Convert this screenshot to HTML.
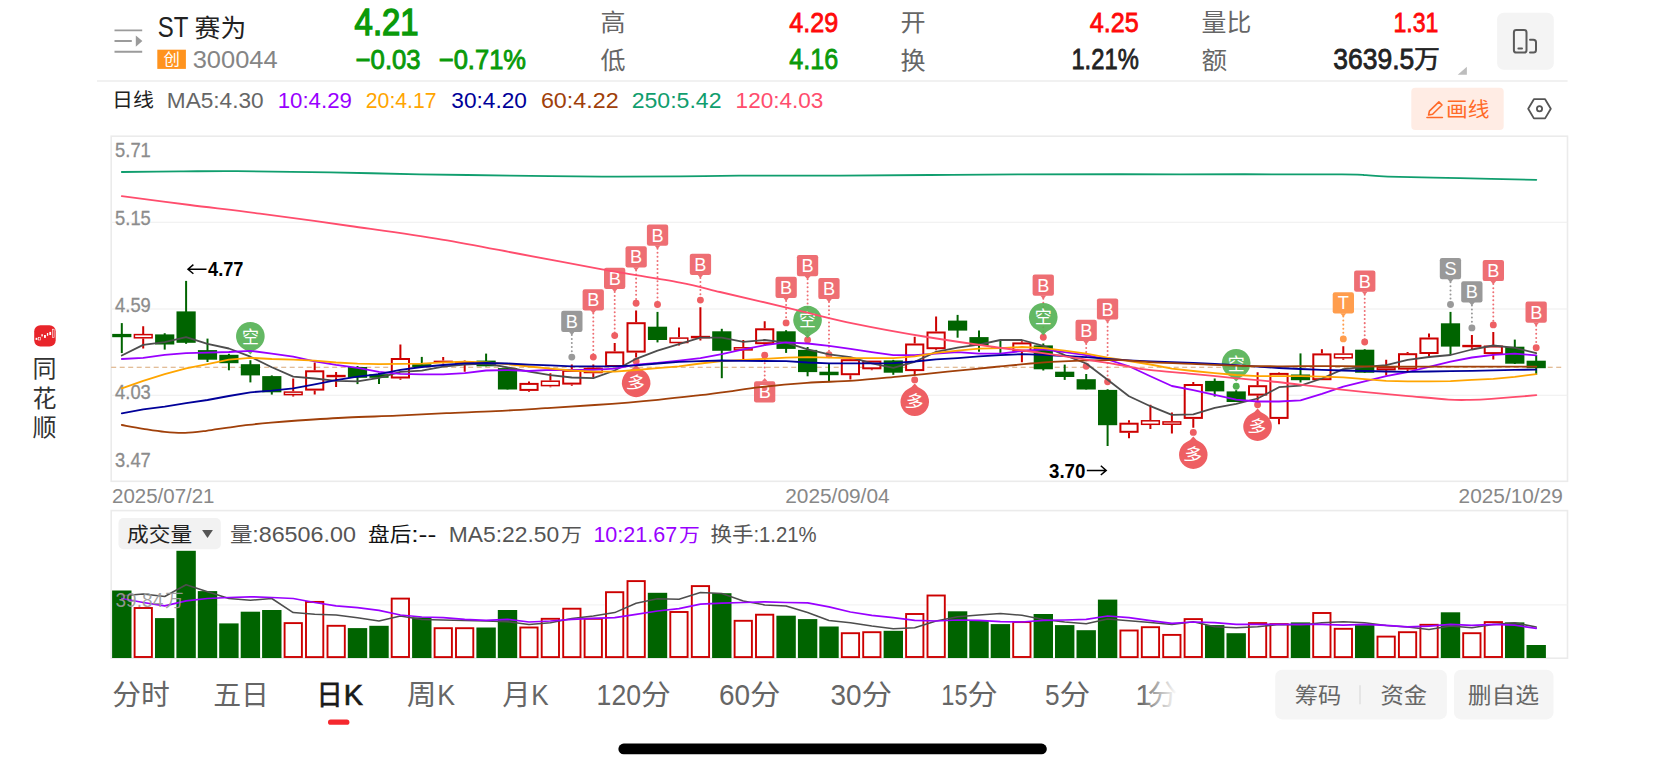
<!DOCTYPE html>
<html lang="zh-CN"><head><meta charset="utf-8"><title>ST赛为 300044 日K</title>
<style>html,body{margin:0;padding:0;background:#fff;overflow:hidden}svg{display:block;font-family:'Liberation Sans','Noto Sans CJK SC',sans-serif}</style>
</head><body>
<svg width="1665" height="768" viewBox="0 0 1665 768">
<rect width="1665" height="768" fill="#fff"/>
<g id="header">
<g stroke="#9b9b9b" stroke-width="1.9" fill="none"><path d="M114.5 30.4H142.2M114.5 41H131.8M114.5 51.8H142.2"/></g>
<path d="M135.8 35.4L142.4 41L135.8 46.8Z" fill="#9b9b9b"/>
<text><tspan x="157.7" y="36.6" font-size="28.6" fill="#222" textLength="30.6" lengthAdjust="spacingAndGlyphs">ST</tspan> <tspan x="194.6" y="36.6" font-size="25" fill="#222" textLength="51.6" lengthAdjust="spacingAndGlyphs">赛为</tspan></text>
<rect x="157.3" y="49.7" width="28.6" height="19.2" fill="#ff931e"/>
<text x="171.6" y="65.2" font-size="16.4" fill="#fff" text-anchor="middle">创</text>
<text x="192.7" y="67.6" font-size="23.3" fill="#858585" textLength="85" lengthAdjust="spacingAndGlyphs">300044</text>
<text x="354.6" y="35.4" font-size="37.7" fill="#0a9a0a" textLength="64" lengthAdjust="spacingAndGlyphs" stroke="#0a9a0a" stroke-width="1.5">4.21</text>
<text><tspan x="355.6" y="69.2" font-size="27.8" fill="#0a9a0a" textLength="65" lengthAdjust="spacingAndGlyphs" stroke="#0a9a0a" stroke-width="0.9">−0.03</tspan> <tspan x="438.8" y="69.2" font-size="27.8" fill="#0a9a0a" textLength="87.2" lengthAdjust="spacingAndGlyphs" stroke="#0a9a0a" stroke-width="0.9">−0.71%</tspan></text>
<text x="600.6" y="31.1" font-size="24.2" fill="#666" textLength="25" lengthAdjust="spacingAndGlyphs">高</text>
<text x="600.6" y="68.6" font-size="23.8" fill="#666" textLength="25" lengthAdjust="spacingAndGlyphs">低</text>
<text x="789.2" y="31.5" font-size="28.5" fill="#ff0a0a" textLength="49" lengthAdjust="spacingAndGlyphs" stroke="#ff0a0a" stroke-width="0.8">4.29</text>
<text x="789.2" y="69" font-size="28.8" fill="#0a9a0a" textLength="49" lengthAdjust="spacingAndGlyphs" stroke="#0a9a0a" stroke-width="0.8">4.16</text>
<text x="900.4" y="31.1" font-size="24.2" fill="#666" textLength="25.1" lengthAdjust="spacingAndGlyphs">开</text>
<text x="900.4" y="68.6" font-size="23.8" fill="#666" textLength="25.1" lengthAdjust="spacingAndGlyphs">换</text>
<text x="1089.8" y="31.5" font-size="28.5" fill="#ff0a0a" textLength="49" lengthAdjust="spacingAndGlyphs" stroke="#ff0a0a" stroke-width="0.8">4.25</text>
<text x="1071.4" y="69" font-size="28.8" fill="#222" textLength="67.4" lengthAdjust="spacingAndGlyphs" stroke="#222" stroke-width="0.8">1.21%</text>
<text x="1201.5" y="31" font-size="24" fill="#666" textLength="49.8" lengthAdjust="spacingAndGlyphs">量比</text>
<text x="1201.5" y="68.5" font-size="23.9" fill="#666" textLength="25.6" lengthAdjust="spacingAndGlyphs">额</text>
<text x="1393.4" y="31.5" font-size="28.5" fill="#ff0a0a" textLength="45" lengthAdjust="spacingAndGlyphs" stroke="#ff0a0a" stroke-width="0.8">1.31</text>
<text><tspan x="1333.3" y="69" font-size="28.8" fill="#222" textLength="80.9" lengthAdjust="spacingAndGlyphs" stroke="#222" stroke-width="0.8">3639.5</tspan><tspan x="1414" y="68.1" font-size="24.6" fill="#222" textLength="25.9" lengthAdjust="spacingAndGlyphs" stroke="#222" stroke-width="0.6">万</tspan></text>
<path d="M1466.9 66.7V74.8H1457.7Z" fill="#bdbdbd"/>
<rect x="1497.1" y="12.8" width="56.7" height="56.9" rx="6.5" fill="#f4f4f4"/>
<g fill="none" stroke="#5a5a5a" stroke-width="2" stroke-linecap="round"><rect x="1513.9" y="30" width="12.6" height="22.6" rx="2.4"/><path d="M1518.4 48.4H1522"/><path d="M1530 39.7H1533.4Q1536 39.7 1536 42.3V50Q1536 52.6 1533.4 52.6H1530"/></g>
<path d="M97 81.1H1567.6" stroke="#ededed" stroke-width="1.5"/>
<text x="112.1" y="107.3" font-size="18.9" fill="#222" textLength="41.9" lengthAdjust="spacingAndGlyphs">日线</text>
<text x="166.8" y="107.6" font-size="21.6" fill="#666666" textLength="96.8" lengthAdjust="spacingAndGlyphs">MA5:4.30</text>
<text x="277.7" y="107.6" font-size="21.6" fill="#9900ff" textLength="74.2" lengthAdjust="spacingAndGlyphs">10:4.29</text>
<text x="365.8" y="107.6" font-size="21.6" fill="#ffa500" textLength="70.8" lengthAdjust="spacingAndGlyphs">20:4.17</text>
<text x="451.3" y="107.6" font-size="21.6" fill="#000099" textLength="75.6" lengthAdjust="spacingAndGlyphs">30:4.20</text>
<text x="540.9" y="107.6" font-size="21.6" fill="#a0400a" textLength="77.7" lengthAdjust="spacingAndGlyphs">60:4.22</text>
<text x="631.7" y="107.6" font-size="21.6" fill="#109e6e" textLength="89.8" lengthAdjust="spacingAndGlyphs">250:5.42</text>
<text x="735.6" y="107.6" font-size="21.6" fill="#ff4d6d" textLength="87.8" lengthAdjust="spacingAndGlyphs">120:4.03</text>
<rect x="1411.3" y="87.8" width="92.4" height="42.1" rx="4" fill="#ffece4"/>
<g fill="none" stroke="#ff6a28" stroke-width="1.6" stroke-linecap="round" stroke-linejoin="round"><path d="M1438.9 101.9L1442 105L1432.6 114.2L1428.6 115L1429.4 111.1Z"/><path d="M1427 117.5H1442.4"/></g>
<text x="1445.9" y="116.5" font-size="20.5" fill="#ff6a28" textLength="43.5" lengthAdjust="spacingAndGlyphs">画线</text>
<g fill="none" stroke="#555" stroke-width="1.8" stroke-linejoin="round"><path d="M1528.2 108.8L1533.9 99.2H1545.1L1550.8 108.8L1545.1 118.4H1533.9Z"/><circle cx="1539.5" cy="108.8" r="2.6"/></g>
</g>
<g id="brand">
<rect x="34.2" y="325.2" width="21.5" height="21.3" rx="6.2" fill="#e8242a"/>
<g fill="#fff"><rect x="35.6" y="337.8" width="1.8" height="2.1"/><rect x="41.4" y="334.2" width="1.4" height="2.2"/><rect x="44" y="335" width="1.9" height="2.9"/><rect x="46.9" y="333" width="1.3" height="2.8"/><rect x="49.3" y="331.9" width="1.8" height="3.1"/></g>
<g fill="none" stroke="#fff" stroke-width="0.6"><rect x="38.5" y="337.6" width="2" height="2.4"/><rect x="52.5" y="329.2" width="1.6" height="8.3"/></g>
<text x="44.4" y="376.6" font-size="24" fill="#333" text-anchor="middle">同</text>
<text x="44.4" y="406.5" font-size="24" fill="#333" text-anchor="middle">花</text>
<text x="44.4" y="436.4" font-size="24" fill="#333" text-anchor="middle">顺</text>
</g>
<g id="kchart">
<rect x="111.2" y="136.2" width="1456.3" height="345.1" fill="#fff" stroke="#ebebeb" stroke-width="1.6"/>
<path d="M111.2 222.3H1567.5" stroke="#eeeeee" stroke-width="1.05"/>
<path d="M111.2 308.9H1567.5" stroke="#eeeeee" stroke-width="1.05"/>
<path d="M111.2 395.2H1567.5" stroke="#eeeeee" stroke-width="1.05"/>
<text x="115.1" y="156.5" font-size="20.6" fill="#8c8c8c" textLength="35.7" lengthAdjust="spacingAndGlyphs" stroke="#8c8c8c" stroke-width="0.3">5.71</text>
<text x="115.1" y="225.2" font-size="20.6" fill="#8c8c8c" textLength="35.7" lengthAdjust="spacingAndGlyphs" stroke="#8c8c8c" stroke-width="0.3">5.15</text>
<text x="115.1" y="311.9" font-size="20.6" fill="#8c8c8c" textLength="35.7" lengthAdjust="spacingAndGlyphs" stroke="#8c8c8c" stroke-width="0.3">4.59</text>
<text x="115.1" y="398.6" font-size="20.6" fill="#8c8c8c" textLength="35.7" lengthAdjust="spacingAndGlyphs" stroke="#8c8c8c" stroke-width="0.3">4.03</text>
<text x="115.1" y="467" font-size="20.6" fill="#8c8c8c" textLength="35.7" lengthAdjust="spacingAndGlyphs" stroke="#8c8c8c" stroke-width="0.3">3.47</text>
<path d="M111.2 367.3H1563" stroke="#d9a877" stroke-width="1.1" stroke-dasharray="5 3.5"/>
<g id="markers">
<path d="M571.8 334.9V357.1" stroke="#999999" stroke-width="2" stroke-linecap="round" stroke-dasharray="0.01 4.05"/>
<rect x="561.2" y="310.7" width="21.3" height="21.2" rx="2.2" fill="#999999"/>
<path d="M568.8 331.6L571.8 335.3L574.8 331.6Z" fill="#999999"/>
<circle cx="571.8" cy="357.1" r="3.45" fill="#999999"/>
<text x="571.8" y="327.8" font-size="18.2" fill="#fff" text-anchor="middle">B</text>
<path d="M593.3 313.4V357.1" stroke="#ee6e73" stroke-width="2" stroke-linecap="round" stroke-dasharray="0.01 4.05"/>
<rect x="582.6" y="289.2" width="21.3" height="21.2" rx="2.2" fill="#ee6e73"/>
<path d="M590.3 310.1L593.3 313.8L596.3 310.1Z" fill="#ee6e73"/>
<circle cx="593.3" cy="357.1" r="3.45" fill="#ee5f63"/>
<text x="593.3" y="306.3" font-size="18.2" fill="#fff" text-anchor="middle">B</text>
<path d="M614.7 291.9V335.6" stroke="#ee6e73" stroke-width="2" stroke-linecap="round" stroke-dasharray="0.01 4.05"/>
<rect x="604" y="267.7" width="21.3" height="21.2" rx="2.2" fill="#ee6e73"/>
<path d="M611.7 288.6L614.7 292.3L617.7 288.6Z" fill="#ee6e73"/>
<circle cx="614.7" cy="335.6" r="3.45" fill="#ee5f63"/>
<text x="614.7" y="284.8" font-size="18.2" fill="#fff" text-anchor="middle">B</text>
<path d="M636.1 270.5V303.2" stroke="#ee6e73" stroke-width="2" stroke-linecap="round" stroke-dasharray="0.01 4.05"/>
<rect x="625.5" y="246.3" width="21.3" height="21.2" rx="2.2" fill="#ee6e73"/>
<path d="M633.1 267.2L636.1 270.9L639.1 267.2Z" fill="#ee6e73"/>
<circle cx="636.1" cy="303.2" r="3.45" fill="#ee5f63"/>
<text x="636.1" y="263.4" font-size="18.2" fill="#fff" text-anchor="middle">B</text>
<path d="M657.5 248.7V304.5" stroke="#ee6e73" stroke-width="2" stroke-linecap="round" stroke-dasharray="0.01 4.05"/>
<rect x="646.9" y="224.5" width="21.3" height="21.2" rx="2.2" fill="#ee6e73"/>
<path d="M654.5 245.4L657.5 249.1L660.5 245.4Z" fill="#ee6e73"/>
<circle cx="657.5" cy="304.5" r="3.45" fill="#ee5f63"/>
<text x="657.5" y="241.6" font-size="18.2" fill="#fff" text-anchor="middle">B</text>
<path d="M700.4 277.9V300.1" stroke="#ee6e73" stroke-width="2" stroke-linecap="round" stroke-dasharray="0.01 4.05"/>
<rect x="689.8" y="253.7" width="21.3" height="21.2" rx="2.2" fill="#ee6e73"/>
<path d="M697.4 274.6L700.4 278.3L703.4 274.6Z" fill="#ee6e73"/>
<circle cx="700.4" cy="300.1" r="3.45" fill="#ee5f63"/>
<text x="700.4" y="270.8" font-size="18.2" fill="#fff" text-anchor="middle">B</text>
<path d="M764.7 355.2V378.3" stroke="#ee6e73" stroke-width="2" stroke-linecap="round" stroke-dasharray="0.01 4.05"/>
<rect x="754" y="381.3" width="21.3" height="21.2" rx="2.2" fill="#ee6e73"/>
<path d="M761.7 381.6L764.7 377.9L767.7 381.6Z" fill="#ee6e73"/>
<circle cx="764.7" cy="355.2" r="3.45" fill="#ee5f63"/>
<text x="764.7" y="398.4" font-size="18.2" fill="#fff" text-anchor="middle">B</text>
<path d="M786.1 300.9V322.9" stroke="#ee6e73" stroke-width="2" stroke-linecap="round" stroke-dasharray="0.01 4.05"/>
<rect x="775.5" y="276.7" width="21.3" height="21.2" rx="2.2" fill="#ee6e73"/>
<path d="M783.1 297.6L786.1 301.3L789.1 297.6Z" fill="#ee6e73"/>
<circle cx="786.1" cy="322.9" r="3.45" fill="#ee5f63"/>
<text x="786.1" y="293.8" font-size="18.2" fill="#fff" text-anchor="middle">B</text>
<path d="M807.6 279.2V340" stroke="#ee6e73" stroke-width="2" stroke-linecap="round" stroke-dasharray="0.01 4.05"/>
<rect x="796.9" y="255" width="21.3" height="21.2" rx="2.2" fill="#ee6e73"/>
<path d="M804.6 275.9L807.6 279.6L810.6 275.9Z" fill="#ee6e73"/>
<circle cx="807.6" cy="340" r="3.45" fill="#ee5f63"/>
<text x="807.6" y="272.1" font-size="18.2" fill="#fff" text-anchor="middle">B</text>
<path d="M829 302.1V354.8" stroke="#ee6e73" stroke-width="2" stroke-linecap="round" stroke-dasharray="0.01 4.05"/>
<rect x="818.3" y="277.9" width="21.3" height="21.2" rx="2.2" fill="#ee6e73"/>
<path d="M826 298.8L829 302.5L832 298.8Z" fill="#ee6e73"/>
<circle cx="829" cy="354.8" r="3.45" fill="#ee5f63"/>
<text x="829" y="295" font-size="18.2" fill="#fff" text-anchor="middle">B</text>
<path d="M1043.3 298.8V337.2" stroke="#ee6e73" stroke-width="2" stroke-linecap="round" stroke-dasharray="0.01 4.05"/>
<rect x="1032.6" y="274.6" width="21.3" height="21.2" rx="2.2" fill="#ee6e73"/>
<path d="M1040.3 295.5L1043.3 299.2L1046.3 295.5Z" fill="#ee6e73"/>
<circle cx="1043.3" cy="337.2" r="3.45" fill="#ee5f63"/>
<text x="1043.3" y="291.7" font-size="18.2" fill="#fff" text-anchor="middle">B</text>
<path d="M1086.2 344V366.3" stroke="#ee6e73" stroke-width="2" stroke-linecap="round" stroke-dasharray="0.01 4.05"/>
<rect x="1075.5" y="319.8" width="21.3" height="21.2" rx="2.2" fill="#ee6e73"/>
<path d="M1083.2 340.7L1086.2 344.4L1089.2 340.7Z" fill="#ee6e73"/>
<circle cx="1086.2" cy="366.3" r="3.45" fill="#ee5f63"/>
<text x="1086.2" y="336.9" font-size="18.2" fill="#fff" text-anchor="middle">B</text>
<path d="M1107.6 322.6V381.8" stroke="#ee6e73" stroke-width="2" stroke-linecap="round" stroke-dasharray="0.01 4.05"/>
<rect x="1096.9" y="298.4" width="21.3" height="21.2" rx="2.2" fill="#ee6e73"/>
<path d="M1104.6 319.3L1107.6 323L1110.6 319.3Z" fill="#ee6e73"/>
<circle cx="1107.6" cy="381.8" r="3.45" fill="#ee5f63"/>
<text x="1107.6" y="315.5" font-size="18.2" fill="#fff" text-anchor="middle">B</text>
<path d="M1343.3 316.5V338.9" stroke="#ff9d4d" stroke-width="2" stroke-linecap="round" stroke-dasharray="0.01 4.05"/>
<rect x="1332.7" y="292.3" width="21.3" height="21.2" rx="2.2" fill="#ff9d4d"/>
<path d="M1340.3 313.2L1343.3 316.9L1346.3 313.2Z" fill="#ff9d4d"/>
<circle cx="1343.3" cy="338.9" r="3.45" fill="#ff9d4d"/>
<text x="1343.3" y="309.4" font-size="18.2" fill="#fff" text-anchor="middle">T</text>
<path d="M1364.7 294.7V342" stroke="#ee6e73" stroke-width="2" stroke-linecap="round" stroke-dasharray="0.01 4.05"/>
<rect x="1354.1" y="270.5" width="21.3" height="21.2" rx="2.2" fill="#ee6e73"/>
<path d="M1361.7 291.4L1364.7 295.1L1367.7 291.4Z" fill="#ee6e73"/>
<circle cx="1364.7" cy="342" r="3.45" fill="#ee5f63"/>
<text x="1364.7" y="287.6" font-size="18.2" fill="#fff" text-anchor="middle">B</text>
<path d="M1450.5 282.3V304.5" stroke="#999999" stroke-width="2" stroke-linecap="round" stroke-dasharray="0.01 4.05"/>
<rect x="1439.8" y="258.1" width="21.3" height="21.2" rx="2.2" fill="#999999"/>
<path d="M1447.5 279L1450.5 282.7L1453.5 279Z" fill="#999999"/>
<circle cx="1450.5" cy="304.5" r="3.45" fill="#999999"/>
<text x="1450.5" y="275.2" font-size="18.2" fill="#fff" text-anchor="middle">S</text>
<path d="M1471.9 305.4V327.9" stroke="#999999" stroke-width="2" stroke-linecap="round" stroke-dasharray="0.01 4.05"/>
<rect x="1461.2" y="281.2" width="21.3" height="21.2" rx="2.2" fill="#999999"/>
<path d="M1468.9 302.1L1471.9 305.8L1474.9 302.1Z" fill="#999999"/>
<circle cx="1471.9" cy="327.9" r="3.45" fill="#999999"/>
<text x="1471.9" y="298.3" font-size="18.2" fill="#fff" text-anchor="middle">B</text>
<path d="M1493.3 284.1V324.9" stroke="#ee6e73" stroke-width="2" stroke-linecap="round" stroke-dasharray="0.01 4.05"/>
<rect x="1482.7" y="259.9" width="21.3" height="21.2" rx="2.2" fill="#ee6e73"/>
<path d="M1490.3 280.8L1493.3 284.5L1496.3 280.8Z" fill="#ee6e73"/>
<circle cx="1493.3" cy="324.9" r="3.45" fill="#ee5f63"/>
<text x="1493.3" y="277" font-size="18.2" fill="#fff" text-anchor="middle">B</text>
<path d="M1536.2 325.7V347.8" stroke="#ee6e73" stroke-width="2" stroke-linecap="round" stroke-dasharray="0.01 4.05"/>
<rect x="1525.5" y="301.5" width="21.3" height="21.2" rx="2.2" fill="#ee6e73"/>
<path d="M1533.2 322.4L1536.2 326.1L1539.2 322.4Z" fill="#ee6e73"/>
<circle cx="1536.2" cy="347.8" r="3.45" fill="#ee5f63"/>
<text x="1536.2" y="318.6" font-size="18.2" fill="#fff" text-anchor="middle">B</text>
<path d="M243.2 348.7A14.3 14.3 0 1 1 257.5 348.7Q252.8 350.9 250.4 354.5Q248 350.9 243.2 348.7Z" fill="#52b052" fill-opacity="0.9"/>
<text x="250.4" y="342.5" font-size="17" fill="#fff" text-anchor="middle">空</text>
<circle cx="636.1" cy="361.3" r="3.45" fill="#ee5f63"/>
<path d="M629 370.5A14.3 14.3 0 1 0 643.3 370.5Q638.5 368.3 636.1 364.7Q633.7 368.3 629 370.5Z" fill="#ee5f63"/>
<text x="636.1" y="389.5" font-size="18" fill="#fff" text-anchor="middle" transform="rotate(13 636.1 382.9)">多</text>
<path d="M800.4 332.5A14.3 14.3 0 1 1 814.7 332.5Q810 334.7 807.6 338.3Q805.2 334.7 800.4 332.5Z" fill="#52b052" fill-opacity="0.9"/>
<text x="807.6" y="326.3" font-size="17" fill="#fff" text-anchor="middle">空</text>
<circle cx="914.7" cy="379.9" r="3.45" fill="#ee5f63"/>
<path d="M907.6 389.3A14.3 14.3 0 1 0 921.9 389.3Q917.1 387.1 914.7 383.5Q912.3 387.1 907.6 389.3Z" fill="#ee5f63"/>
<text x="914.7" y="408.3" font-size="18" fill="#fff" text-anchor="middle" transform="rotate(13 914.7 401.7)">多</text>
<path d="M1036.1 329.6A14.3 14.3 0 1 1 1050.4 329.6Q1045.7 331.8 1043.3 335.4Q1040.9 331.8 1036.1 329.6Z" fill="#52b052" fill-opacity="0.9"/>
<text x="1043.3" y="323.4" font-size="17" fill="#fff" text-anchor="middle">空</text>
<circle cx="1193.3" cy="432.4" r="3.45" fill="#ee5f63"/>
<path d="M1186.1 442.3A14.3 14.3 0 1 0 1200.5 442.3Q1195.7 440.1 1193.3 436.5Q1190.9 440.1 1186.1 442.3Z" fill="#ee5f63"/>
<text x="1193.3" y="461.3" font-size="18" fill="#fff" text-anchor="middle" transform="rotate(13 1193.3 454.7)">多</text>
<circle cx="1236.2" cy="386.3" r="3.45" fill="#52b052"/>
<path d="M1229 375.7A14.3 14.3 0 1 1 1243.3 375.7Q1238.6 377.9 1236.2 381.5Q1233.8 377.9 1229 375.7Z" fill="#52b052" fill-opacity="0.9"/>
<text x="1236.2" y="369.5" font-size="17" fill="#fff" text-anchor="middle">空</text>
<circle cx="1257.6" cy="404.8" r="3.45" fill="#ee5f63"/>
<path d="M1250.4 414.2A14.3 14.3 0 1 0 1264.7 414.2Q1260 412 1257.6 408.4Q1255.2 412 1250.4 414.2Z" fill="#ee5f63"/>
<text x="1257.6" y="433.2" font-size="18" fill="#fff" text-anchor="middle" transform="rotate(13 1257.6 426.6)">多</text>
</g>
<g id="candles">
<path d="M121.8 323.1V353.1" stroke="#006400" stroke-width="2"/>
<rect x="112.2" y="333.9" width="19.2" height="3.3" fill="#006400"/>
<path d="M143.2 326.2V333.9M143.2 338.6V348.5" stroke="#cc0000" stroke-width="2"/>
<rect x="134.4" y="334.6" width="17.7" height="3.2" fill="#fff" stroke="#cc0000" stroke-width="1.5"/>
<path d="M164.7 333.2V349.6" stroke="#006400" stroke-width="2"/>
<rect x="155.1" y="334.4" width="19.2" height="10.1" fill="#006400"/>
<path d="M186.1 280.9V343.8" stroke="#006400" stroke-width="2"/>
<rect x="176.5" y="311.4" width="19.2" height="31.4" fill="#006400"/>
<path d="M207.5 338.6V362" stroke="#006400" stroke-width="2"/>
<rect x="197.9" y="350.1" width="19.2" height="9.6" fill="#006400"/>
<path d="M228.9 353.8V370.3" stroke="#006400" stroke-width="2"/>
<rect x="219.3" y="354.8" width="19.2" height="8.4" fill="#006400"/>
<path d="M250.4 360.2V382.4" stroke="#006400" stroke-width="2"/>
<rect x="240.8" y="364.2" width="19.2" height="11.2" fill="#006400"/>
<path d="M271.8 375.4V394.6" stroke="#006400" stroke-width="2"/>
<rect x="262.2" y="376.1" width="19.2" height="16.2" fill="#006400"/>
<path d="M293.2 378.5V391.3M293.2 395.3V396.5" stroke="#cc0000" stroke-width="2"/>
<rect x="284.4" y="392.1" width="17.7" height="2.5" fill="#fff" stroke="#cc0000" stroke-width="1.5"/>
<path d="M314.7 362.5V370.3M314.7 390.6V394.6" stroke="#cc0000" stroke-width="2"/>
<rect x="306.1" y="371.3" width="17.2" height="18.3" fill="#fff" stroke="#cc0000" stroke-width="2"/>
<path d="M336.1 371.9V374.9M336.1 377.3V387.1" stroke="#cc0000" stroke-width="2"/>
<rect x="327.2" y="375.6" width="17.7" height="0.9" fill="#fff" stroke="#cc0000" stroke-width="1.5"/>
<path d="M357.5 366V384.1" stroke="#006400" stroke-width="2"/>
<rect x="347.9" y="367" width="19.2" height="10.8" fill="#006400"/>
<path d="M379 373V384.1" stroke="#006400" stroke-width="2"/>
<rect x="369.4" y="374.2" width="19.2" height="3.6" fill="#006400"/>
<path d="M400.4 344.5V358M400.4 378.5V379.8" stroke="#cc0000" stroke-width="2"/>
<rect x="391.8" y="359" width="17.2" height="18.5" fill="#fff" stroke="#cc0000" stroke-width="2"/>
<path d="M421.8 356.9V367" stroke="#006400" stroke-width="2"/>
<rect x="412.2" y="364.2" width="19.2" height="2.8" fill="#006400"/>
<path d="M443.2 356.9V360.6M443.2 363V363.4" stroke="#cc0000" stroke-width="2"/>
<rect x="434.4" y="361.4" width="17.7" height="0.9" fill="#fff" stroke="#cc0000" stroke-width="1.5"/>
<path d="M464.7 360.6V361.6M464.7 363.6V371.7" stroke="#cc0000" stroke-width="2"/>
<rect x="455.8" y="362.4" width="17.7" height="0.5" fill="#fff" stroke="#cc0000" stroke-width="1.5"/>
<path d="M486.1 353.6V366.3" stroke="#006400" stroke-width="2"/>
<rect x="476.5" y="360.6" width="19.2" height="5.7" fill="#006400"/>
<path d="M507.5 367.4V389.5" stroke="#006400" stroke-width="2"/>
<rect x="497.9" y="368.1" width="19.2" height="21.4" fill="#006400"/>
<path d="M529 381.5V382.9M529 390.9V391.8" stroke="#cc0000" stroke-width="2"/>
<rect x="520.4" y="383.9" width="17.2" height="6" fill="#fff" stroke="#cc0000" stroke-width="2"/>
<path d="M550.4 373.3V380.5M550.4 386.4V387.3" stroke="#cc0000" stroke-width="2"/>
<rect x="541.5" y="381.2" width="17.7" height="4.4" fill="#fff" stroke="#cc0000" stroke-width="1.5"/>
<path d="M571.8 364.6V369.8M571.8 384.6V385.7" stroke="#cc0000" stroke-width="2"/>
<rect x="563.2" y="370.8" width="17.2" height="12.8" fill="#fff" stroke="#cc0000" stroke-width="2"/>
<path d="M593.3 364.6V367.7M593.3 373.3V377.5" stroke="#cc0000" stroke-width="2"/>
<rect x="584.4" y="368.4" width="17.7" height="4.1" fill="#fff" stroke="#cc0000" stroke-width="1.5"/>
<path d="M614.7 343V351.4M614.7 367V367" stroke="#cc0000" stroke-width="2"/>
<rect x="606.1" y="352.4" width="17.2" height="13.6" fill="#fff" stroke="#cc0000" stroke-width="2"/>
<path d="M636.1 310.6V322.2M636.1 352.6V357.6" stroke="#cc0000" stroke-width="2"/>
<rect x="627.5" y="323.2" width="17.2" height="28.4" fill="#fff" stroke="#cc0000" stroke-width="2"/>
<path d="M657.5 311.9V342.4" stroke="#006400" stroke-width="2"/>
<rect x="647.9" y="326.7" width="19.2" height="13.3" fill="#006400"/>
<path d="M679 327.6V337.3M679 343.2V345.4" stroke="#cc0000" stroke-width="2"/>
<rect x="670.1" y="338.1" width="17.7" height="4.4" fill="#fff" stroke="#cc0000" stroke-width="1.5"/>
<path d="M700.4 307.2V335.9M700.4 338.4V340.5" stroke="#cc0000" stroke-width="2"/>
<rect x="691.6" y="336.6" width="17.7" height="1" fill="#fff" stroke="#cc0000" stroke-width="1.5"/>
<path d="M721.8 328.8V378.2" stroke="#006400" stroke-width="2"/>
<rect x="712.2" y="331.3" width="19.2" height="19.5" fill="#006400"/>
<path d="M743.3 340V347M743.3 350.6V360" stroke="#cc0000" stroke-width="2"/>
<rect x="734.4" y="347.8" width="17.7" height="2.1" fill="#fff" stroke="#cc0000" stroke-width="1.5"/>
<path d="M764.7 321.3V328.3M764.7 344.2V345.9" stroke="#cc0000" stroke-width="2"/>
<rect x="756.1" y="329.3" width="17.2" height="13.9" fill="#fff" stroke="#cc0000" stroke-width="2"/>
<path d="M786.1 330.2V352.9" stroke="#006400" stroke-width="2"/>
<rect x="776.5" y="331.3" width="19.2" height="17.6" fill="#006400"/>
<path d="M807.6 347V376.3" stroke="#006400" stroke-width="2"/>
<rect x="798" y="349.9" width="19.2" height="22.2" fill="#006400"/>
<path d="M829 363.9V381" stroke="#006400" stroke-width="2"/>
<rect x="819.4" y="371.7" width="19.2" height="3.5" fill="#006400"/>
<path d="M850.4 357.6V359.2M850.4 375.2V379.4" stroke="#cc0000" stroke-width="2"/>
<rect x="841.8" y="360.2" width="17.2" height="14" fill="#fff" stroke="#cc0000" stroke-width="2"/>
<path d="M871.8 360.6V360.6M871.8 369.3V370.2" stroke="#cc0000" stroke-width="2"/>
<rect x="863.2" y="361.6" width="17.2" height="6.7" fill="#fff" stroke="#cc0000" stroke-width="2"/>
<path d="M893.3 359.9V374.8" stroke="#006400" stroke-width="2"/>
<rect x="883.7" y="360.4" width="19.2" height="12.3" fill="#006400"/>
<path d="M914.7 336.7V343.5M914.7 371.1V375.4" stroke="#cc0000" stroke-width="2"/>
<rect x="906.1" y="344.5" width="17.2" height="25.6" fill="#fff" stroke="#cc0000" stroke-width="2"/>
<path d="M936.1 316.4V331.5M936.1 349.2V350.2" stroke="#cc0000" stroke-width="2"/>
<rect x="927.5" y="332.5" width="17.2" height="15.7" fill="#fff" stroke="#cc0000" stroke-width="2"/>
<path d="M957.6 314.9V337.7" stroke="#006400" stroke-width="2"/>
<rect x="948" y="320.6" width="19.2" height="10" fill="#006400"/>
<path d="M979 330.6V351.7" stroke="#006400" stroke-width="2"/>
<rect x="969.4" y="337.1" width="19.2" height="8.8" fill="#006400"/>
<path d="M1000.4 340.5V352.9" stroke="#006400" stroke-width="2"/>
<rect x="990.8" y="347.4" width="19.2" height="1.6" fill="#006400"/>
<path d="M1021.9 341.2V342.4M1021.9 351.7V362.3" stroke="#cc0000" stroke-width="2"/>
<rect x="1013.3" y="343.4" width="17.2" height="7.3" fill="#fff" stroke="#cc0000" stroke-width="2"/>
<path d="M1043.3 343.5V370.5" stroke="#006400" stroke-width="2"/>
<rect x="1033.7" y="345.4" width="19.2" height="23.9" fill="#006400"/>
<path d="M1064.7 364.6V379.9" stroke="#006400" stroke-width="2"/>
<rect x="1055.1" y="371.7" width="19.2" height="5.3" fill="#006400"/>
<path d="M1086.2 374V389.5" stroke="#006400" stroke-width="2"/>
<rect x="1076.6" y="379.2" width="19.2" height="10.3" fill="#006400"/>
<path d="M1107.6 389.2V446" stroke="#006400" stroke-width="2"/>
<rect x="1098" y="389.9" width="19.2" height="35.3" fill="#006400"/>
<path d="M1129 420.3V422.7M1129 432.8V438.3" stroke="#cc0000" stroke-width="2"/>
<rect x="1120.4" y="423.7" width="17.2" height="8.1" fill="#fff" stroke="#cc0000" stroke-width="2"/>
<path d="M1150.4 404.8V420M1150.4 425V428.9" stroke="#cc0000" stroke-width="2"/>
<rect x="1141.6" y="420.8" width="17.7" height="3.5" fill="#fff" stroke="#cc0000" stroke-width="1.5"/>
<path d="M1171.9 412.5V421.2M1171.9 425V433.6" stroke="#cc0000" stroke-width="2"/>
<rect x="1163" y="421.9" width="17.7" height="2.3" fill="#fff" stroke="#cc0000" stroke-width="1.5"/>
<path d="M1193.3 382V384M1193.3 418.9V427.8" stroke="#cc0000" stroke-width="2"/>
<rect x="1184.7" y="385" width="17.2" height="32.9" fill="#fff" stroke="#cc0000" stroke-width="2"/>
<path d="M1214.7 378.5V396.6" stroke="#006400" stroke-width="2"/>
<rect x="1205.1" y="380.9" width="19.2" height="10.5" fill="#006400"/>
<path d="M1236.2 390.2V402" stroke="#006400" stroke-width="2"/>
<rect x="1226.6" y="391.4" width="19.2" height="10.6" fill="#006400"/>
<path d="M1257.6 372.2V385.2M1257.6 395.6V400.8" stroke="#cc0000" stroke-width="2"/>
<rect x="1249" y="386.2" width="17.2" height="8.4" fill="#fff" stroke="#cc0000" stroke-width="2"/>
<path d="M1279 372.4V372.9M1279 418.9V424.2" stroke="#cc0000" stroke-width="2"/>
<rect x="1270.4" y="373.9" width="17.2" height="44" fill="#fff" stroke="#cc0000" stroke-width="2"/>
<path d="M1300.5 353.4V382.5" stroke="#006400" stroke-width="2"/>
<rect x="1290.9" y="374.5" width="19.2" height="5.7" fill="#006400"/>
<path d="M1321.9 349.2V353.4M1321.9 380.2V380.2" stroke="#cc0000" stroke-width="2"/>
<rect x="1313.3" y="354.4" width="17.2" height="24.8" fill="#fff" stroke="#cc0000" stroke-width="2"/>
<path d="M1343.3 346.2V353.4M1343.3 358.6V359.8" stroke="#cc0000" stroke-width="2"/>
<rect x="1334.5" y="354.1" width="17.7" height="3.7" fill="#fff" stroke="#cc0000" stroke-width="1.5"/>
<path d="M1364.7 349.2V372.7" stroke="#006400" stroke-width="2"/>
<rect x="1355.1" y="349.7" width="19.2" height="23" fill="#006400"/>
<path d="M1386.2 359.8V367M1386.2 370.3V375.5" stroke="#cc0000" stroke-width="2"/>
<rect x="1377.3" y="367.8" width="17.7" height="1.8" fill="#fff" stroke="#cc0000" stroke-width="1.5"/>
<path d="M1407.6 352V353.2M1407.6 369.6V371.5" stroke="#cc0000" stroke-width="2"/>
<rect x="1399" y="354.2" width="17.2" height="14.4" fill="#fff" stroke="#cc0000" stroke-width="2"/>
<path d="M1429 333.5V337.5M1429 354V357.4" stroke="#cc0000" stroke-width="2"/>
<rect x="1420.4" y="338.5" width="17.2" height="14.5" fill="#fff" stroke="#cc0000" stroke-width="2"/>
<path d="M1450.5 311.9V355.1" stroke="#006400" stroke-width="2"/>
<rect x="1440.9" y="323.3" width="19.2" height="23.3" fill="#006400"/>
<path d="M1471.9 335.1V344.8M1471.9 347.2V349.4" stroke="#cc0000" stroke-width="2"/>
<rect x="1463" y="345.6" width="17.7" height="0.9" fill="#fff" stroke="#cc0000" stroke-width="1.5"/>
<path d="M1493.3 332.1V345.5M1493.3 354.1V359.5" stroke="#cc0000" stroke-width="2"/>
<rect x="1484.7" y="346.5" width="17.2" height="6.6" fill="#fff" stroke="#cc0000" stroke-width="2"/>
<path d="M1514.8 339.6V364" stroke="#006400" stroke-width="2"/>
<rect x="1505.2" y="346.7" width="19.2" height="17" fill="#006400"/>
<path d="M1536.2 354.9V374.8" stroke="#006400" stroke-width="2"/>
<rect x="1526.6" y="360.7" width="19.2" height="7.5" fill="#006400"/>
</g>
<g id="malines">
<polyline points="121.8,355.5 143.2,344.9 164.7,342.1 186.1,337.2 207.5,343.8 228.9,348.5 250.4,356.7 271.8,367.2 293.2,376.6 314.7,378.5 336.1,380.8 357.5,381.3 379,377.8 400.4,371.8 421.8,370.6 443.2,366.6 464.7,364.7 486.1,363.5 507.5,367.4 529,371.7 550.4,375.2 571.8,377.5 593.3,378.2 614.7,370.5 636.1,358.8 657.5,350.6 679,344.2 700.4,337.7 721.8,337.7 743.3,341.9 764.7,340 786.1,342.6 807.6,349.4 829,354.3 850.4,357.1 871.8,363.4 893.3,367.8 914.7,361.8 936.1,351.9 957.6,347.6 979,344.7 1000.4,340 1021.9,340 1043.3,345.9 1064.7,355.2 1086.2,363.5 1107.6,379.8 1129,396.2 1150.4,406.2 1171.9,414.9 1193.3,414.4 1214.7,407.8 1236.2,403.8 1257.6,398.5 1279,387.2 1300.5,385.6 1321.9,378.5 1343.3,369.2 1364.7,366.8 1386.2,365.2 1407.6,359.8 1429,357 1450.5,355 1471.9,349.5 1493.3,345.5 1514.8,347.8 1536.2,353.2" fill="none" stroke="#4d4d4d" stroke-width="1.8" stroke-linejoin="round" stroke-linecap="round"/>
<polyline points="121.8,359 143.2,357.8 164.7,354.8 186.1,353.1 207.5,352.7 228.9,352 250.4,350.8 271.8,353.6 293.2,356.7 314.7,361.3 336.1,364.9 357.5,367.9 379,371.9 400.4,373.8 421.8,374.4 443.2,374.4 464.7,373.2 486.1,370.5 507.5,370.1 529,371 550.4,369.8 571.8,370 593.3,369.8 614.7,368.6 636.1,364.6 657.5,363 679,360.6 700.4,358.1 721.8,354.1 743.3,349.4 764.7,345.2 786.1,342.4 807.6,343.5 829,345.9 850.4,348.9 871.8,352.2 893.3,355.2 914.7,355.2 936.1,353.6 957.6,352.2 979,353.6 1000.4,353.6 1021.9,351 1043.3,349.4 1064.7,352.2 1086.2,355.2 1107.6,359.5 1129,366.3 1150.4,376.2 1171.9,386 1193.3,390.2 1214.7,394.9 1236.2,399.6 1257.6,401.5 1279,401.5 1300.5,400.3 1321.9,393.8 1343.3,386.7 1364.7,381.3 1386.2,376.2 1407.6,372 1429,366.8 1450.5,361.7 1471.9,357.5 1493.3,354.9 1514.8,353.7 1536.2,355.3" fill="none" stroke="#9900ff" stroke-width="1.8" stroke-linejoin="round" stroke-linecap="round"/>
<polyline points="121.8,388.3 143.2,380.8 164.7,374.2 186.1,368.4 207.5,364.2 228.9,359.7 250.4,357.8 271.8,359 293.2,359.7 314.7,360.6 336.1,362.5 357.5,363.7 379,364.2 400.4,363.8 421.8,363.6 443.2,362.4 464.7,361.7 486.1,362.3 507.5,364.2 529,366.5 550.4,368.6 571.8,370.5 593.3,371.7 614.7,371.7 636.1,370 657.5,368.1 679,366.3 700.4,363.5 721.8,361.1 743.3,359.9 764.7,358.8 786.1,357.6 807.6,357.1 829,357.6 850.4,358.1 871.8,358.1 893.3,358.1 914.7,356.4 936.1,352.9 957.6,350.6 979,348.7 1000.4,348.2 1021.9,347 1043.3,348.2 1064.7,350.6 1086.2,353.6 1107.6,357.6 1129,361 1150.4,364.5 1171.9,368.7 1193.3,371 1214.7,373.1 1236.2,375 1257.6,376.2 1279,376.2 1300.5,376.2 1321.9,376.7 1343.3,377.4 1364.7,379.2 1386.2,380.9 1407.6,381.3 1429,381.3 1450.5,381.1 1471.9,379.9 1493.3,378.8 1514.8,376.8 1536.2,374.1" fill="none" stroke="#ffa500" stroke-width="1.8" stroke-linejoin="round" stroke-linecap="round"/>
<polyline points="121.8,413.4 143.2,409.4 164.7,406.6 186.1,403.1 207.5,400 228.9,396 250.4,392.3 271.8,390.6 293.2,388.3 314.7,384.3 336.1,380.1 357.5,376.6 379,374.2 400.4,369.8 421.8,367 443.2,365 464.7,363.4 486.1,363 507.5,363.5 529,364.6 550.4,365.3 571.8,366.3 593.3,366.3 614.7,366.3 636.1,365.3 657.5,363.5 679,361.8 700.4,361.1 721.8,360.5 743.3,360.8 764.7,361 786.1,361.2 807.6,362.5 829,363.3 850.4,363.3 871.8,363.3 893.3,363.1 914.7,361.5 936.1,359.4 957.6,358.1 979,356.4 1000.4,355.2 1021.9,354.1 1043.3,354.8 1064.7,356 1086.2,357.1 1107.6,358.8 1129,360.3 1150.4,361.4 1171.9,362.2 1193.3,362.8 1214.7,364 1236.2,365.2 1257.6,366.6 1279,368 1300.5,369 1321.9,369.9 1343.3,370.5 1364.7,371 1386.2,371.5 1407.6,371.8 1429,371.5 1450.5,371.2 1471.9,370.8 1493.3,370.3 1514.8,369.9 1536.2,369.6" fill="none" stroke="#000099" stroke-width="1.8" stroke-linejoin="round" stroke-linecap="round"/>
<path d="M121.8 425C125.2 425.6 136.3 427.7 143.2 428.8C150.1 429.9 158 431.3 164.7 431.9C171.4 432.5 178.4 433 185.1 432.8C191.8 432.6 199.5 431.6 206.4 430.8C213.3 430 221.3 428.5 228 427.6C234.7 426.7 241.5 425.7 248.4 424.9C255.3 424.1 263.1 423.3 271 422.6C278.9 421.9 285.7 421.3 297.9 420.5C310.1 419.7 331.6 418.3 347.4 417.5C363.2 416.7 381.1 416.4 396.9 415.7C412.7 415 430.6 413.9 446.4 413.2C462.2 412.5 480 412 495.8 411.2C511.6 410.4 529.5 409.2 545.3 408.2C561.1 407.2 576.8 406.3 594.8 405C612.8 403.7 641.1 401.4 657.9 399.8C674.7 398.2 688.8 396.5 700 395.2C711.2 393.9 718.6 392.9 728.2 391.6C737.8 390.3 747.4 388.6 760 387.2C772.6 385.8 791.9 384 806.9 382.9C821.9 381.8 838.8 381.7 853.8 380.6C868.8 379.5 885.6 377.7 900.6 376.3C915.6 374.9 932.5 373.2 947.5 371.7C962.5 370.2 979.4 368.4 994.4 367C1009.4 365.6 1026.3 363.8 1041.3 362.7C1056.3 361.6 1075.6 360.8 1088.2 360.4C1100.8 360 1110.3 359.9 1120 360.2C1129.7 360.5 1137.5 361.5 1149 362.1C1160.5 362.7 1178.1 363.2 1191.8 363.8C1205.5 364.4 1220.9 365.2 1234.6 365.6C1248.3 366 1263.7 366.2 1277.4 366.3C1291.1 366.4 1306.5 366.1 1320.2 366.1C1333.9 366.1 1349.3 366.2 1363 366.3C1376.7 366.4 1392.1 366.7 1405.8 366.7C1419.5 366.7 1434.9 366.6 1448.6 366.6C1462.3 366.6 1477.4 366.6 1491.4 366.6C1505.4 366.6 1529.1 366.6 1536.3 366.6" fill="none" stroke="#a0400a" stroke-width="1.8" stroke-linejoin="round" stroke-linecap="round"/>
<path d="M121.8 172C131.1 171.9 161.6 171.5 180 171.4C198.4 171.3 213 170.9 237 171.1C261 171.3 300.8 171.9 330 172.4C359.2 172.9 390.8 173.8 419.6 174.3C448.4 174.8 480.8 175.2 510 175.6C539.2 176 574.8 176.5 602 176.6C629.2 176.7 658.1 176.4 680 176.3C701.9 176.2 713.4 175.8 739 175.7C764.6 175.6 809.4 175.8 840 175.7C870.6 175.6 900.8 175.2 930 175C959.2 174.8 982.6 174.4 1022.6 174.3C1062.6 174.2 1128.9 174.3 1180 174.3C1231.1 174.3 1312.2 174.2 1342 174.3C1371.8 174.4 1358.6 174.8 1366 175.2C1373.4 175.6 1373 176.1 1388 176.6C1403 177.1 1436.3 177.7 1460 178.2C1483.7 178.7 1524.1 179.5 1536.3 179.8" fill="none" stroke="#109e6e" stroke-width="1.8" stroke-linejoin="round" stroke-linecap="round"/>
<path d="M121.8 196.2C132.7 197.6 167.9 202.2 190 205C212.1 207.8 234.4 210.2 260 213.6C285.6 217 320.9 221.8 350 226C379.1 230.2 414.8 235.1 442 239.6C469.2 244.1 494.4 249.2 520 254C545.6 258.8 576.4 264.7 602 269.3C627.6 273.9 661.1 279 680 282.6C698.9 286.2 707.2 289 720 292C732.8 295 746.2 298 760 301.3C773.8 304.6 791 308.8 806 312.4C821 316 834.9 319.7 853.8 323.6C872.7 327.5 901.5 332.8 924 336.5C946.5 340.2 975.6 344.4 994.4 347C1013.2 349.6 1026.3 350.8 1041.3 352.9C1056.3 355 1075.6 358 1088.2 359.9C1100.8 361.8 1110.3 363.4 1120 365C1129.7 366.6 1137.5 368.5 1149 369.9C1160.5 371.3 1178.1 372.5 1191.8 373.8C1205.5 375.1 1220.9 376.8 1234.6 378.1C1248.3 379.4 1263.7 380.5 1277.4 382C1291.1 383.5 1306.5 385.6 1320.2 387.2C1333.9 388.8 1349.3 390.4 1363 391.8C1376.7 393.2 1392.1 394.6 1405.8 395.8C1419.5 397 1438.3 398.9 1448.6 399.6C1458.9 400.3 1463.2 400 1470 399.9C1476.8 399.8 1480.8 399.7 1491.4 398.9C1502 398.1 1529.1 395.8 1536.3 395.2" fill="none" stroke="#ff4d6d" stroke-width="1.8" stroke-linejoin="round" stroke-linecap="round"/>
</g>
<path d="M188.2 269.2H206.5M193.4 264.6L188 269.2L193.4 273.8" stroke="#000" stroke-width="1.5" fill="none"/>
<text x="208" y="276.3" font-size="21" fill="#000" textLength="35.5" lengthAdjust="spacingAndGlyphs" font-weight="bold">4.77</text>
<text x="1049" y="478" font-size="20.7" fill="#000" textLength="36.4" lengthAdjust="spacingAndGlyphs" font-weight="bold">3.70</text>
<path d="M1086.8 470.4H1106M1100.8 465.8L1106.2 470.4L1100.8 475" stroke="#000" stroke-width="1.5" fill="none"/>
<text x="112" y="502.8" font-size="20.7" fill="#888" textLength="102.5" lengthAdjust="spacingAndGlyphs">2025/07/21</text>
<text x="785.2" y="502.8" font-size="20.7" fill="#888" textLength="104.4" lengthAdjust="spacingAndGlyphs">2025/09/04</text>
<text x="1458.6" y="502.8" font-size="20.7" fill="#888" textLength="104.2" lengthAdjust="spacingAndGlyphs">2025/10/29</text>
</g>
<g id="volume">
<rect x="111.2" y="510.6" width="1456.3" height="147.6" fill="#fff" stroke="#ebebeb" stroke-width="1.6"/>
<path d="M111.2 604.9H1567.5" stroke="#f0f0f0" stroke-width="1"/>
<rect x="112.1" y="590.5" width="19.4" height="67.5" fill="#006400"/>
<rect x="134.6" y="608" width="17.3" height="49" fill="#fff" stroke="#cc0000" stroke-width="1.9"/>
<rect x="155" y="618.1" width="19.4" height="39.9" fill="#006400"/>
<rect x="176.4" y="550.8" width="19.4" height="107.2" fill="#006400"/>
<rect x="197.8" y="591.1" width="19.4" height="66.9" fill="#006400"/>
<rect x="219.2" y="623.4" width="19.4" height="34.6" fill="#006400"/>
<rect x="240.7" y="611.7" width="19.4" height="46.3" fill="#006400"/>
<rect x="262.1" y="610" width="19.4" height="48" fill="#006400"/>
<rect x="284.6" y="623.1" width="17.3" height="33.9" fill="#fff" stroke="#cc0000" stroke-width="1.9"/>
<rect x="306" y="601.9" width="17.3" height="55.2" fill="#fff" stroke="#cc0000" stroke-width="1.9"/>
<rect x="327.5" y="625.8" width="17.3" height="31.3" fill="#fff" stroke="#cc0000" stroke-width="1.9"/>
<rect x="347.8" y="628.1" width="19.4" height="29.9" fill="#006400"/>
<rect x="369.3" y="625.8" width="19.4" height="32.2" fill="#006400"/>
<rect x="391.7" y="598.6" width="17.3" height="58.4" fill="#fff" stroke="#cc0000" stroke-width="1.9"/>
<rect x="412.1" y="617.4" width="19.4" height="40.6" fill="#006400"/>
<rect x="434.6" y="628.2" width="17.3" height="28.9" fill="#fff" stroke="#cc0000" stroke-width="1.9"/>
<rect x="456" y="628.2" width="17.3" height="28.9" fill="#fff" stroke="#cc0000" stroke-width="1.9"/>
<rect x="476.4" y="627.5" width="19.4" height="30.5" fill="#006400"/>
<rect x="497.8" y="610" width="19.4" height="48" fill="#006400"/>
<rect x="520.3" y="627.5" width="17.3" height="29.6" fill="#fff" stroke="#cc0000" stroke-width="1.9"/>
<rect x="541.7" y="618.8" width="17.3" height="38.3" fill="#fff" stroke="#cc0000" stroke-width="1.9"/>
<rect x="563.2" y="608.7" width="17.3" height="48.4" fill="#fff" stroke="#cc0000" stroke-width="1.9"/>
<rect x="584.6" y="618.8" width="17.3" height="38.3" fill="#fff" stroke="#cc0000" stroke-width="1.9"/>
<rect x="606" y="592.2" width="17.3" height="64.9" fill="#fff" stroke="#cc0000" stroke-width="1.9"/>
<rect x="627.5" y="581.1" width="17.3" height="75.9" fill="#fff" stroke="#cc0000" stroke-width="1.9"/>
<rect x="647.8" y="592.8" width="19.4" height="65.2" fill="#006400"/>
<rect x="670.3" y="612" width="17.3" height="45" fill="#fff" stroke="#cc0000" stroke-width="1.9"/>
<rect x="691.8" y="586.1" width="17.3" height="70.9" fill="#fff" stroke="#cc0000" stroke-width="1.9"/>
<rect x="712.1" y="593.2" width="19.4" height="64.8" fill="#006400"/>
<rect x="734.6" y="620.8" width="17.3" height="36.3" fill="#fff" stroke="#cc0000" stroke-width="1.9"/>
<rect x="756" y="614.7" width="17.3" height="42.4" fill="#fff" stroke="#cc0000" stroke-width="1.9"/>
<rect x="776.4" y="615.7" width="19.4" height="42.3" fill="#006400"/>
<rect x="797.9" y="619.1" width="19.4" height="38.9" fill="#006400"/>
<rect x="819.3" y="626.5" width="19.4" height="31.5" fill="#006400"/>
<rect x="841.8" y="633.2" width="17.3" height="23.9" fill="#fff" stroke="#cc0000" stroke-width="1.9"/>
<rect x="863.2" y="632.2" width="17.3" height="24.9" fill="#fff" stroke="#cc0000" stroke-width="1.9"/>
<rect x="883.6" y="630.8" width="19.4" height="27.2" fill="#006400"/>
<rect x="906.1" y="614" width="17.3" height="43" fill="#fff" stroke="#cc0000" stroke-width="1.9"/>
<rect x="927.5" y="595.5" width="17.3" height="61.5" fill="#fff" stroke="#cc0000" stroke-width="1.9"/>
<rect x="947.9" y="611.3" width="19.4" height="46.7" fill="#006400"/>
<rect x="969.3" y="620.7" width="19.4" height="37.3" fill="#006400"/>
<rect x="990.7" y="624.1" width="19.4" height="33.9" fill="#006400"/>
<rect x="1013.2" y="622.1" width="17.3" height="34.9" fill="#fff" stroke="#cc0000" stroke-width="1.9"/>
<rect x="1033.6" y="614" width="19.4" height="44" fill="#006400"/>
<rect x="1055" y="625.1" width="19.4" height="32.9" fill="#006400"/>
<rect x="1076.5" y="630.2" width="19.4" height="27.8" fill="#006400"/>
<rect x="1097.9" y="599.6" width="19.4" height="58.4" fill="#006400"/>
<rect x="1120.4" y="630.5" width="17.3" height="26.6" fill="#fff" stroke="#cc0000" stroke-width="1.9"/>
<rect x="1141.8" y="627.2" width="17.3" height="29.9" fill="#fff" stroke="#cc0000" stroke-width="1.9"/>
<rect x="1163.2" y="634.9" width="17.3" height="22.2" fill="#fff" stroke="#cc0000" stroke-width="1.9"/>
<rect x="1184.6" y="619.1" width="17.3" height="37.9" fill="#fff" stroke="#cc0000" stroke-width="1.9"/>
<rect x="1205" y="625.1" width="19.4" height="32.9" fill="#006400"/>
<rect x="1226.5" y="633.2" width="19.4" height="24.8" fill="#006400"/>
<rect x="1248.9" y="623.1" width="17.3" height="33.9" fill="#fff" stroke="#cc0000" stroke-width="1.9"/>
<rect x="1270.4" y="624.1" width="17.3" height="32.9" fill="#fff" stroke="#cc0000" stroke-width="1.9"/>
<rect x="1290.8" y="622.4" width="19.4" height="35.6" fill="#006400"/>
<rect x="1313.2" y="613" width="17.3" height="44" fill="#fff" stroke="#cc0000" stroke-width="1.9"/>
<rect x="1334.7" y="628.8" width="17.3" height="28.3" fill="#fff" stroke="#cc0000" stroke-width="1.9"/>
<rect x="1355" y="625.1" width="19.4" height="32.9" fill="#006400"/>
<rect x="1377.5" y="636.6" width="17.3" height="20.4" fill="#fff" stroke="#cc0000" stroke-width="1.9"/>
<rect x="1398.9" y="632.2" width="17.3" height="24.9" fill="#fff" stroke="#cc0000" stroke-width="1.9"/>
<rect x="1420.4" y="624.8" width="17.3" height="32.3" fill="#fff" stroke="#cc0000" stroke-width="1.9"/>
<rect x="1440.8" y="612.3" width="19.4" height="45.7" fill="#006400"/>
<rect x="1463.2" y="633.2" width="17.3" height="23.9" fill="#fff" stroke="#cc0000" stroke-width="1.9"/>
<rect x="1484.7" y="622.1" width="17.3" height="34.9" fill="#fff" stroke="#cc0000" stroke-width="1.9"/>
<rect x="1505" y="622.4" width="19.4" height="35.6" fill="#006400"/>
<rect x="1526.5" y="645" width="19.4" height="13" fill="#006400"/>
<polyline points="121.8,595.8 143.2,594.1 164.7,596.5 186.1,584.7 207.5,591.8 228.9,598.5 250.4,600.2 271.8,598.5 293.2,612.6 314.7,614.3 336.1,615 357.5,617.7 379,621 400.4,616 421.8,619.4 443.2,620 464.7,620.4 486.1,621 507.5,621.7 529,624.4 550.4,622.7 571.8,618.4 593.3,616 614.7,612.6 636.1,603.2 657.5,598.8 679,599.2 700.4,592.5 721.8,593.5 743.3,600.9 764.7,604.9 786.1,605.9 807.6,612.6 829,620.4 850.4,622.7 871.8,626.1 893.3,628.8 914.7,627.8 936.1,621 957.6,616.7 979,615 1000.4,613.6 1021.9,615.3 1043.3,619.4 1064.7,622 1086.2,623.7 1107.6,619 1129,620.7 1150.4,622.4 1171.9,624.4 1193.3,621.7 1214.7,626.8 1236.2,627.8 1257.6,626.8 1279,624.4 1300.5,625.1 1321.9,622.7 1343.3,621.7 1364.7,622.7 1386.2,625.4 1407.6,627.1 1429,629.5 1450.5,626.1 1471.9,627.8 1493.3,624.4 1514.8,622.7 1536.2,627.1" fill="none" stroke="#4d4d4d" stroke-width="1.55" stroke-linejoin="round" stroke-linecap="round"/>
<polyline points="121.8,598.5 143.2,602.5 164.7,605.9 186.1,600.9 207.5,598.5 228.9,597.5 250.4,596.8 271.8,597.5 293.2,598.5 314.7,602.5 336.1,605.9 357.5,607.6 379,610.3 400.4,615 421.8,617 443.2,617.7 464.7,619.4 486.1,620.4 507.5,619.4 529,622 550.4,621 571.8,619.4 593.3,618.4 614.7,617.7 636.1,614.3 657.5,611 679,608.6 700.4,604.2 721.8,603.2 743.3,602.5 764.7,601.9 786.1,602.5 807.6,602.9 829,606.9 850.4,612 871.8,615.3 893.3,617.7 914.7,620.4 936.1,621 957.6,620 979,620.4 1000.4,621.7 1021.9,622 1043.3,620.4 1064.7,620 1086.2,619.4 1107.6,616 1129,617.7 1150.4,620.7 1171.9,623.4 1193.3,622 1214.7,622.7 1236.2,624.4 1257.6,624.4 1279,624.4 1300.5,624.4 1321.9,624.4 1343.3,625.1 1364.7,624.4 1386.2,625.4 1407.6,626.8 1429,626.1 1450.5,624.4 1471.9,625.4 1493.3,624.4 1514.8,625.1 1536.2,628.4" fill="none" stroke="#9900ff" stroke-width="1.75" stroke-linejoin="round" stroke-linecap="round"/>
<text><tspan x="115.5" y="607" font-size="20.9" fill="#9a9a9a" textLength="47.8" lengthAdjust="spacingAndGlyphs" fill-opacity="0.92">39.84</tspan><tspan x="164.9" y="607" font-size="18.3" fill="#9a9a9a" textLength="18.8" lengthAdjust="spacingAndGlyphs" fill-opacity="0.92">万</tspan></text>
<rect x="118.5" y="518.1" width="102.3" height="31.2" rx="5" fill="#f2f2f2"/>
<text x="127.1" y="542.2" font-size="20.4" fill="#222" textLength="65.2" lengthAdjust="spacingAndGlyphs">成交量</text>
<path d="M202.1 530.1H212.9L207.5 538Z" fill="#555"/>
<text><tspan x="229.9" y="542.2" font-size="20.4" fill="#555" textLength="22.6" lengthAdjust="spacingAndGlyphs">量</tspan><tspan x="252.2" y="542.4" font-size="21.3" fill="#555" textLength="103.7" lengthAdjust="spacingAndGlyphs">:86506.00</tspan></text>
<text><tspan x="368.1" y="542.2" font-size="20.4" fill="#111" textLength="43.3" lengthAdjust="spacingAndGlyphs">盘后</tspan><tspan x="411.2" y="542.4" font-size="21.3" fill="#111" textLength="25.1" lengthAdjust="spacingAndGlyphs">:--</tspan></text>
<text><tspan x="448.8" y="542.4" font-size="21.3" fill="#555" textLength="110.4" lengthAdjust="spacingAndGlyphs">MA5:22.50</tspan><tspan x="561.1" y="541.7" font-size="18.9" fill="#555" textLength="20.9" lengthAdjust="spacingAndGlyphs">万</tspan></text>
<text><tspan x="593.4" y="542.4" font-size="21.3" fill="#9900ff" textLength="83.8" lengthAdjust="spacingAndGlyphs">10:21.67</tspan><tspan x="679.1" y="541.7" font-size="18.9" fill="#9900ff" textLength="20.8" lengthAdjust="spacingAndGlyphs">万</tspan></text>
<text><tspan x="710.6" y="542.2" font-size="20.4" fill="#555" textLength="43" lengthAdjust="spacingAndGlyphs">换手</tspan><tspan x="753.4" y="542.4" font-size="21.3" fill="#555" textLength="63.2" lengthAdjust="spacingAndGlyphs">:1.21%</tspan></text>
</g>
<g id="tabs">
<defs><linearGradient id="fade" x1="0" x2="1" y1="0" y2="0"><stop offset="0" stop-color="#fff" stop-opacity="0"/><stop offset="1" stop-color="#fff" stop-opacity="1"/></linearGradient></defs>
<text x="112.3" y="705" font-size="28.4" fill="#666" textLength="57.6" lengthAdjust="spacingAndGlyphs">分时</text>
<text x="213.2" y="705" font-size="28.4" fill="#666" textLength="55.8" lengthAdjust="spacingAndGlyphs">五日</text>
<text><tspan x="316.6" y="705" font-size="28.4" fill="#1a1a1a" textLength="26.2" lengthAdjust="spacingAndGlyphs" stroke="#1a1a1a" stroke-width="0.7">日</tspan><tspan x="343.8" y="704.7" font-size="29.4" fill="#1a1a1a" textLength="19.2" lengthAdjust="spacingAndGlyphs" stroke="#1a1a1a" stroke-width="0.7">K</tspan></text>
<text><tspan x="406.7" y="705" font-size="28.4" fill="#666" textLength="29.7" lengthAdjust="spacingAndGlyphs">周</tspan><tspan x="437.2" y="704.7" font-size="29.4" fill="#666" textLength="17.8" lengthAdjust="spacingAndGlyphs">K</tspan></text>
<text><tspan x="502.2" y="705" font-size="28.4" fill="#666" textLength="28.4" lengthAdjust="spacingAndGlyphs">月</tspan><tspan x="531.2" y="704.7" font-size="29.4" fill="#666" textLength="17.4" lengthAdjust="spacingAndGlyphs">K</tspan></text>
<text><tspan x="596.6" y="704.7" font-size="29.4" fill="#666" textLength="44.4" lengthAdjust="spacingAndGlyphs">120</tspan><tspan x="641" y="705" font-size="28.4" fill="#666" textLength="29.8" lengthAdjust="spacingAndGlyphs">分</tspan></text>
<text><tspan x="718.9" y="704.7" font-size="29.4" fill="#666" textLength="31.1" lengthAdjust="spacingAndGlyphs">60</tspan><tspan x="750" y="705" font-size="28.4" fill="#666" textLength="30.5" lengthAdjust="spacingAndGlyphs">分</tspan></text>
<text><tspan x="830.6" y="704.7" font-size="29.4" fill="#666" textLength="31" lengthAdjust="spacingAndGlyphs">30</tspan><tspan x="861.6" y="705" font-size="28.4" fill="#666" textLength="30.6" lengthAdjust="spacingAndGlyphs">分</tspan></text>
<text><tspan x="941.3" y="704.7" font-size="29.4" fill="#666" textLength="26.3" lengthAdjust="spacingAndGlyphs">15</tspan><tspan x="967.6" y="705" font-size="28.4" fill="#666" textLength="30.2" lengthAdjust="spacingAndGlyphs">分</tspan></text>
<text><tspan x="1045" y="704.7" font-size="29.4" fill="#666" textLength="14.6" lengthAdjust="spacingAndGlyphs">5</tspan><tspan x="1059.6" y="705" font-size="28.4" fill="#666" textLength="30.8" lengthAdjust="spacingAndGlyphs">分</tspan></text>
<text><tspan x="1135.4" y="704.7" font-size="29.4" fill="#666">1</tspan><tspan x="1147.6" y="705" font-size="28.4" fill="#666" textLength="30.3" lengthAdjust="spacingAndGlyphs">分</tspan></text>
<rect x="1140" y="676" width="37" height="38" fill="url(#fade)"/>
<rect x="328" y="719.6" width="21.4" height="5.2" rx="2.6" fill="#f5282e"/>
<rect x="1275.2" y="669.7" width="171.7" height="49.7" rx="7" fill="#f5f5f5"/>
<rect x="1454" y="669.7" width="99.5" height="49.7" rx="7" fill="#f5f5f5"/>
<path d="M1360 685.3V704.3" stroke="#dcdcdc" stroke-width="1.3"/>
<text x="1294.7" y="703" font-size="22.1" fill="#666" textLength="46.5" lengthAdjust="spacingAndGlyphs">筹码</text>
<text x="1380.5" y="703" font-size="22.1" fill="#666" textLength="46.5" lengthAdjust="spacingAndGlyphs">资金</text>
<text x="1467.7" y="703" font-size="22.1" fill="#666" textLength="71.4" lengthAdjust="spacingAndGlyphs">删自选</text>
<rect x="618.4" y="743.6" width="428.4" height="10.6" rx="5.3" fill="#000"/>
</g>
</svg>
</body></html>
